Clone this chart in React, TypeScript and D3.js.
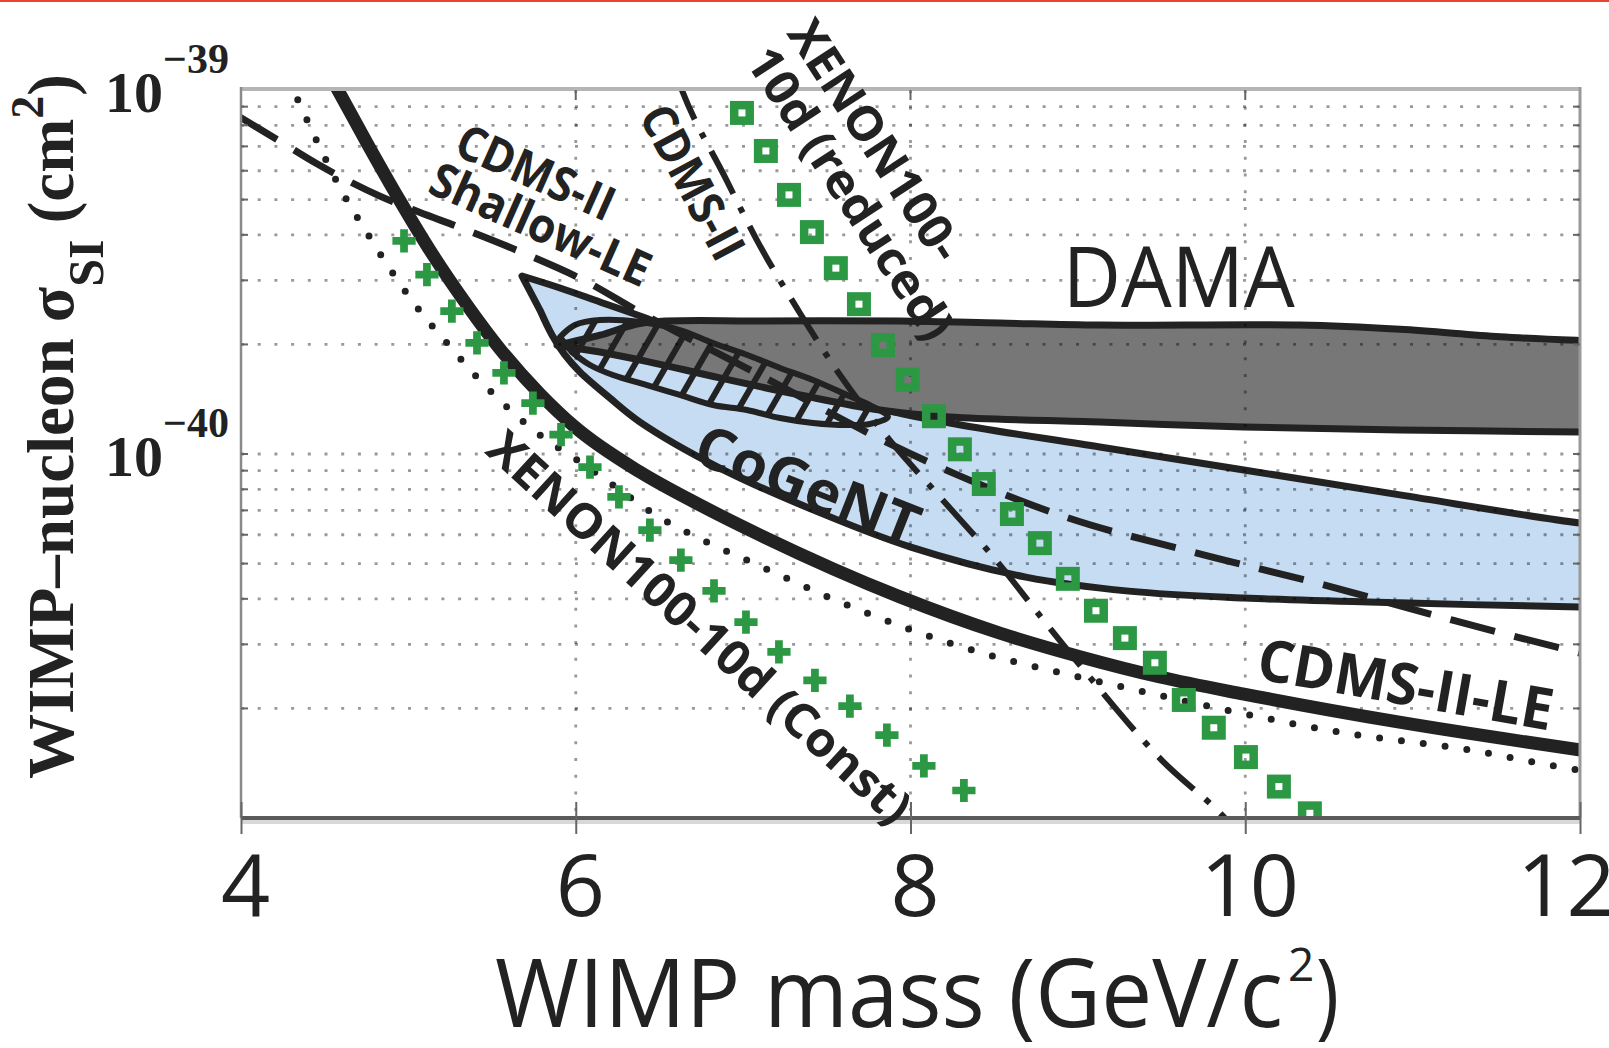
import { useRef, useEffect } from 'react'
import * as d3 from 'd3'

type Pt = [number, number]

// x: WIMP mass (GeV/c^2), y: sigma_SI in units of 1e-40 cm^2
const massTicks = [4, 6, 8, 10, 12]
const gridMass = [6, 8, 10]
const gridSigma = [0.2, 0.3, 0.4, 0.5, 0.6, 0.7, 0.8, 0.9, 1, 2, 3, 4, 5, 6, 7, 8, 9]
const decades = [10, 1]
const decadeExp = ['\u221239', '\u221240']

// CDMS-II-LE limit (thick solid)
const cdmsLE: Pt[] = [
  [4.52, 11.2], [4.579, 10.0], [4.753, 7.15], [4.95, 4.96], [5.147, 3.52], [5.35, 2.567],
  [5.547, 1.943], [5.786, 1.462], [5.995, 1.186], [6.384, 0.892], [6.742, 0.724], [7.1, 0.599],
  [7.937, 0.405], [8.534, 0.322], [9.018, 0.277], [9.49, 0.244], [9.992, 0.219],
  [10.912, 0.1836], [11.993, 0.154], [12.3, 0.147],
]

// dotted limit
const dottedLimit: Pt[] = [
  [4.28, 10.65], [4.311, 10.0], [4.43, 7.62], [4.609, 5.21], [4.753, 4.05], [4.902, 3.162],
  [5.051, 2.533], [5.225, 2.031], [5.398, 1.648], [5.589, 1.346], [5.786, 1.128],
  [6.007, 0.963], [6.222, 0.822], [6.449, 0.693], [6.796, 0.569], [7.047, 0.505],
  [7.524, 0.402], [8.008, 0.328], [8.51, 0.277], [8.91, 0.25], [9.287, 0.228],
  [9.83, 0.2005], [10.559, 0.1723], [11.342, 0.1537], [11.993, 0.1355], [12.3, 0.13],
]

// CDMS-II Shallow-LE (long dashes)
const shallowLE: Pt[] = [
  [3.98, 8.5], [4.239, 7.2], [4.454, 6.27], [4.83, 5.11], [5.063, 4.62], [5.314, 4.18],
  [5.691, 3.56], [6.043, 3.01], [6.384, 2.45], [7.1, 1.648], [7.871, 1.07], [8.283, 0.875],
  [8.928, 0.671], [9.705, 0.535], [10.47, 0.437], [11.234, 0.35], [11.999, 0.284], [12.3, 0.262],
]

// CDMS-II (dash-dot)
const cdmsII: Pt[] = [
  [6.6, 11.0], [6.634, 10.0], [6.891, 5.77], [7.082, 3.87], [7.339, 2.44], [7.566, 1.68],
  [7.877, 1.09], [8.176, 0.762], [8.534, 0.496], [8.785, 0.354], [9.036, 0.255],
  [9.502, 0.144], [9.878, 0.1], [9.95, 0.092],
]

// XENON100-10d (reduced), green squares
const xenonReduced: Pt[] = [
  [6.993, 8.65], [7.136, 6.8], [7.274, 5.15], [7.411, 4.07], [7.554, 3.24], [7.692, 2.58],
  [7.835, 1.99], [7.984, 1.6], [8.14, 1.27], [8.295, 1.03], [8.438, 0.827], [8.606, 0.684],
  [8.773, 0.569], [8.94, 0.454], [9.108, 0.371], [9.281, 0.312], [9.46, 0.267], [9.633, 0.211],
  [9.812, 0.177], [10.004, 0.147], [10.201, 0.122], [10.386, 0.103],
]

// XENON100-10d (Const), green crosses
const xenonConst: Pt[] = [
  [4.974, 3.85], [5.111, 3.11], [5.26, 2.47], [5.41, 2.02], [5.571, 1.67], [5.744, 1.38],
  [5.912, 1.13], [6.085, 0.921], [6.258, 0.762], [6.443, 0.618], [6.628, 0.511],
  [6.826, 0.421], [7.017, 0.345], [7.214, 0.286], [7.429, 0.239], [7.638, 0.203],
  [7.859, 0.169], [8.08, 0.139], [8.319, 0.119],
]

// DAMA region: upper edge left->right, lower edge right->left
const damaUpper: Pt[] = [
  [5.888, 1.99], [6.145, 2.12], [6.401, 2.29], [7.1, 2.32], [7.937, 2.32], [8.534, 2.29],
  [9.131, 2.26], [10.326, 2.26], [10.924, 2.2], [11.521, 2.1], [11.999, 2.05], [12.4, 2.02],
]
const damaLower: Pt[] = [
  [12.4, 1.14], [11.999, 1.149], [10.924, 1.164], [9.992, 1.186], [9.131, 1.224], [8.235, 1.264],
  [7.817, 1.321], [7.339, 1.453], [6.861, 1.618], [6.443, 1.789], [6.145, 1.906],
]

// CoGeNT region
const cogentUpper: Pt[] = [
  [5.679, 3.083], [5.906, 2.858], [6.145, 2.616], [6.401, 2.379], [6.742, 2.057], [7.339, 1.648],
  [7.817, 1.338], [8.235, 1.217], [9.131, 1.045], [9.992, 0.904], [10.924, 0.772], [11.999, 0.646],
  [12.4, 0.62],
]
const cogentLower: Pt[] = [
  [12.4, 0.378], [11.999, 0.38], [10.924, 0.39], [9.992, 0.402], [9.305, 0.42], [8.689, 0.459],
  [8.002, 0.555], [7.465, 0.688], [6.849, 0.921], [6.384, 1.224], [6.204, 1.425], [6.025, 1.68],
  [5.935, 1.871], [5.858, 2.123], [5.786, 2.486],
]

// hatched overlap region
const hatchUpper: Pt[] = [
  [5.906, 2.096], [5.995, 2.262], [6.145, 2.334], [6.384, 2.305], [6.622, 2.191], [6.82, 2.018],
  [7.041, 1.859], [7.22, 1.723], [7.417, 1.597], [7.62, 1.453], [7.757, 1.363], [7.865, 1.264],
]
const hatchLower: Pt[] = [
  [7.757, 1.209], [7.62, 1.201], [7.417, 1.217], [7.22, 1.256], [7.023, 1.321], [6.82, 1.363],
  [6.622, 1.453], [6.425, 1.547], [6.222, 1.648], [6.085, 1.756], [5.977, 1.906],
]

// curve labels, anchored in data space
const annotations = [
  { text: 'DAMA', m: 9.603, s: 2.53, angle: 0, size: 84, len: 232, bold: false },
  { text: 'CoGeNT', m: 7.387, s: 0.822, angle: 21.5, size: 58, len: 236, bold: true },
  { text: 'CDMS-II-LE', m: 10.959, s: 0.2334, angle: 10, size: 58, len: 299, bold: true },
  { text: 'XENON100-10d (Const)', m: 6.742, s: 0.335, angle: 42.5, size: 48, len: 555, bold: true },
  { text: 'XENON100-', m: 7.793, s: 7.29, angle: 57, size: 48, len: 277, bold: true },
  { text: '10d (reduced)', m: 7.644, s: 5.21, angle: 57, size: 48, len: 338, bold: true },
  { text: 'CDMS-II', m: 6.7, s: 5.59, angle: 62, size: 48, len: 168, bold: true },
  { text: 'CDMS-II', m: 5.762, s: 5.95, angle: 24, size: 48, len: 168, bold: true },
  { text: 'Shallow-LE', m: 5.792, s: 4.28, angle: 24, size: 48, len: 236, bold: true },
]

const W = 1609
const H = 1048

export default function App() {
  const svgRef = useRef<SVGSVGElement>(null)

  useEffect(() => {
    if (!svgRef.current) return
    const svg = d3.select(svgRef.current)
    svg.selectAll('*').remove()

    const left = 241, right = 1580, top = 90, bottom = 818
    const x = d3.scaleLinear().domain([4, 12]).range([left, right])
    const y = d3.scaleLog().domain([0.1, 10]).range([bottom, top])

    const sans = '"Open Sans", "Liberation Sans", sans-serif'
    const serif = '"Liberation Serif", "DejaVu Serif", serif'
    const ink = '#222'
    const green = '#2c9844'

    svg.append('rect').attr('width', W).attr('height', H).attr('fill', '#fff')
    svg.append('rect').attr('width', W).attr('height', 2).attr('fill', '#e8432e')

    const defs = svg.append('defs')
    defs.append('clipPath').attr('id', 'plot-clip')
      .append('rect').attr('x', left).attr('y', top).attr('width', right - left).attr('height', bottom - top)
    const pat = defs.append('pattern').attr('id', 'hatch')
      .attr('patternUnits', 'userSpaceOnUse').attr('width', 28).attr('height', 28)
      .attr('patternTransform', 'rotate(30)')
    pat.append('line').attr('x1', 4).attr('y1', -2).attr('x2', 4).attr('y2', 30)
      .attr('stroke', ink).attr('stroke-width', 6)

    const plot = svg.append('g').attr('clip-path', 'url(#plot-clip)')

    const area = d3.line<Pt>().x(d => x(d[0])).y(d => y(d[1])).curve(d3.curveCatmullRom.alpha(0.5))
    const curve = d3.line<Pt>().x(d => x(d[0])).y(d => y(d[1])).curve(d3.curveMonotoneX)

    // regions
    plot.append('path').attr('d', area([...cogentUpper, ...cogentLower]) + 'Z')
      .attr('fill', '#c6dcf2').attr('stroke', ink).attr('stroke-width', 7).attr('stroke-linejoin', 'round')
    plot.append('path').attr('d', area([...damaUpper, ...damaLower]) + 'Z')
      .attr('fill', '#777').attr('stroke', ink).attr('stroke-width', 7).attr('stroke-linejoin', 'round')
    plot.append('path').attr('d', area([...hatchUpper, ...hatchLower]) + 'Z')
      .attr('fill', 'url(#hatch)').attr('stroke', ink).attr('stroke-width', 6).attr('stroke-linejoin', 'round')

    // dotted grid
    const grid = plot.append('g').attr('stroke', '#000').attr('stroke-opacity', 0.4)
      .attr('stroke-width', 2.8).attr('stroke-dasharray', '3,13.7')
    grid.selectAll('.gh').data(gridSigma).join('line').attr('class', 'gh')
      .attr('x1', left).attr('x2', right).attr('y1', d => y(d)).attr('y2', d => y(d))
    grid.selectAll('.gv').data(gridMass).join('line').attr('class', 'gv')
      .attr('x1', d => x(d)).attr('x2', d => x(d)).attr('y1', top).attr('y2', bottom)

    // limit curves
    plot.append('path').attr('d', curve(shallowLE)).attr('fill', 'none').attr('stroke', ink)
      .attr('stroke-width', 7).attr('stroke-dasharray', '46,20')
    plot.append('path').attr('d', curve(cdmsII)).attr('fill', 'none').attr('stroke', ink)
      .attr('stroke-width', 6).attr('stroke-dasharray', '48,15,6,15')
    plot.append('path').attr('d', curve(dottedLimit)).attr('fill', 'none').attr('stroke', ink)
      .attr('stroke-width', 7).attr('stroke-dasharray', '0,22').attr('stroke-linecap', 'round')
    plot.append('path').attr('d', curve(cdmsLE)).attr('fill', 'none').attr('stroke', ink)
      .attr('stroke-width', 13)

    // XENON markers
    plot.append('g').selectAll('rect').data(xenonReduced).join('rect')
      .attr('x', d => x(d[0]) - 7.75).attr('y', d => y(d[1]) - 7.75)
      .attr('width', 15.5).attr('height', 15.5)
      .attr('fill', 'none').attr('stroke', green).attr('stroke-width', 8.5)
    const cross = d3.symbol().type(d3.symbolCross).size(300)
    plot.append('g').selectAll('path').data(xenonConst).join('path')
      .attr('transform', d => `translate(${x(d[0])},${y(d[1])})`)
      .attr('d', cross()).attr('fill', green)

    // frame
    svg.append('line').attr('x1', left).attr('x2', right + 1).attr('y1', top - 1).attr('y2', top - 1)
      .attr('stroke', '#b5b5b5').attr('stroke-width', 4)
    svg.append('line').attr('x1', left).attr('x2', left).attr('y1', top - 3).attr('y2', bottom)
      .attr('stroke', '#8a8a8a').attr('stroke-width', 2.5)
    svg.append('line').attr('x1', right).attr('x2', right).attr('y1', top - 3).attr('y2', bottom)
      .attr('stroke', '#999').attr('stroke-width', 3)
    svg.append('line').attr('x1', left).attr('x2', right + 1).attr('y1', bottom + 4).attr('y2', bottom + 4)
      .attr('stroke', '#d8d8d8').attr('stroke-width', 4)
    svg.append('line').attr('x1', left).attr('x2', right + 1).attr('y1', bottom).attr('y2', bottom)
      .attr('stroke', '#5a5a5a').attr('stroke-width', 4)

    // small ticks on the side axes and top
    const ticks = svg.append('g').attr('stroke', '#666').attr('stroke-width', 2)
    ticks.selectAll('.tl').data(gridSigma).join('line').attr('class', 'tl')
      .attr('x1', left).attr('x2', left + 7).attr('y1', d => y(d)).attr('y2', d => y(d))
    ticks.selectAll('.tr').data(gridSigma).join('line').attr('class', 'tr')
      .attr('x1', right - 7).attr('x2', right).attr('y1', d => y(d)).attr('y2', d => y(d))
    ticks.selectAll('.tt').data(gridMass).join('line').attr('class', 'tt')
      .attr('x1', d => x(d)).attr('x2', d => x(d)).attr('y1', top).attr('y2', top + 10)

    // bottom axis
    const xAxis = svg.append('g').attr('transform', `translate(0,${bottom})`)
      .call(d3.axisBottom(x).tickValues(massTicks).tickSize(16).tickSizeOuter(0).tickPadding(21)
        .tickFormat(d3.format('d')))
    xAxis.select('.domain').remove()
    xAxis.selectAll('line').attr('stroke', '#666').attr('stroke-width', 2).attr('y1', -16)
    xAxis.selectAll('text').attr('font-family', sans).attr('font-size', 86).attr('fill', ink)
      .attr('dx', (d: any) => (d === 12 ? -14 : 4))

    // log axis labels 10^-39, 10^-40
    const yl = svg.append('g').attr('font-family', serif).attr('font-weight', 'bold').attr('fill', ink)
    decades.forEach((v, i) => {
      yl.append('text').attr('x', 163).attr('y', y(v) + 22).attr('text-anchor', 'end')
        .attr('font-size', 58).text('10')
      yl.append('text').attr('x', 163).attr('y', y(v) - 17).attr('font-size', 42).text(decadeExp[i])
    })

    // y title
    const yt = svg.append('text').attr('transform', 'translate(73,779) rotate(-90)')
      .attr('font-family', serif).attr('font-weight', 'bold').attr('font-size', 65).attr('fill', ink)
    yt.append('tspan').text('WIMP\u2013nucleon \u03c3')
    yt.append('tspan').attr('dy', 30).attr('font-size', 50).text('SI')
    yt.append('tspan').attr('dy', -30).text(' (cm')
    yt.append('tspan').attr('dy', -30).attr('font-size', 46).text('2')
    yt.append('tspan').attr('dy', 30).text(')')

    // x title
    svg.append('text').attr('x', 495).attr('y', 1027).attr('font-family', sans).attr('font-size', 96)
      .attr('fill', ink).attr('textLength', 788).attr('lengthAdjust', 'spacingAndGlyphs')
      .text('WIMP mass (GeV/c')
    svg.append('text').attr('x', 1288).attr('y', 981).attr('font-family', sans).attr('font-size', 46)
      .attr('fill', ink).text('2')
    svg.append('text').attr('x', 1316).attr('y', 1027).attr('font-family', sans).attr('font-size', 96)
      .attr('fill', ink).attr('textLength', 23).attr('lengthAdjust', 'spacingAndGlyphs').text(')')

    // curve labels
    svg.append('g').selectAll('text').data(annotations).join('text')
      .attr('transform', d => `translate(${x(d.m)},${y(d.s)}) rotate(${d.angle})`)
      .attr('text-anchor', 'middle')
      .attr('dy', d => (d.angle === 0 ? 0 : '0.36em'))
      .attr('font-family', sans)
      .attr('font-weight', d => (d.bold ? 'bold' : 'normal'))
      .attr('font-size', d => d.size)
      .attr('textLength', d => d.len)
      .attr('lengthAdjust', 'spacingAndGlyphs')
      .attr('fill', ink)
      .text(d => d.text)
  }, [])

  return (
    <div style={{ position: 'absolute', left: 0, top: 0 }}>
      <svg ref={svgRef} width={W} height={H} style={{ display: 'block' }} />
    </div>
  )
}
